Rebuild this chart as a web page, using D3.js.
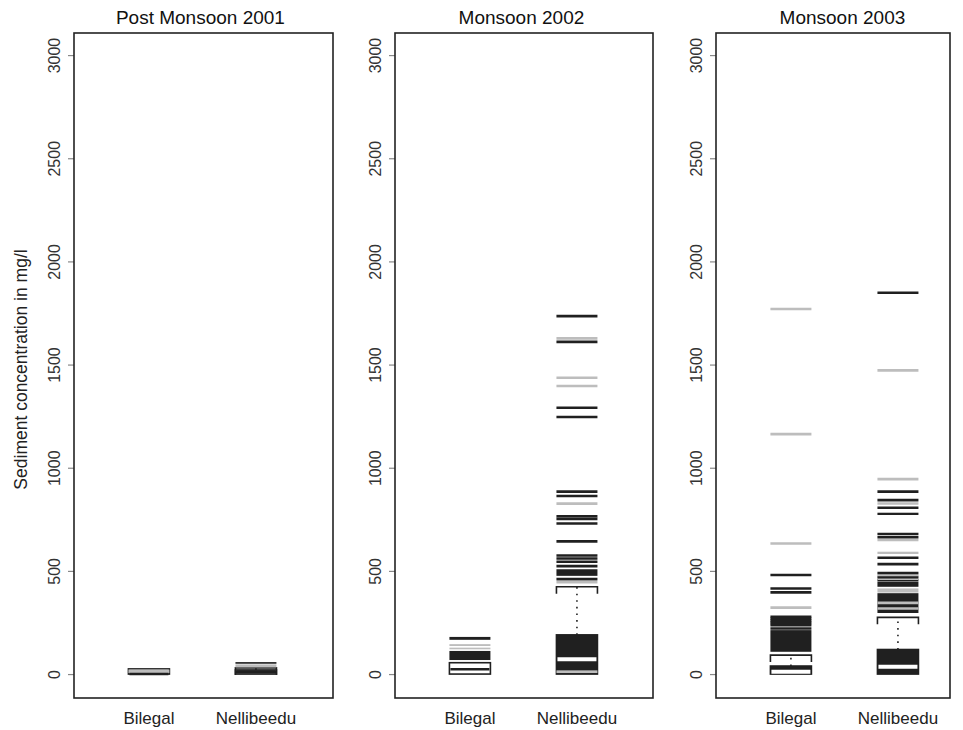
<!DOCTYPE html>
<html>
<head>
<meta charset="utf-8">
<script src="https://cdn.jsdelivr.net/npm/d3@7"></script>
<style>
  html, body { margin: 0; padding: 0; background: #fff; }
  svg { display: block; font-family: "Liberation Sans", Arial, sans-serif; }
</style>
</head>
<body>
<svg id="chart" width="963" height="730"></svg>
<script>
// ---------------- DATA ----------------
const panelTitles = ["Post Monsoon 2001", "Monsoon 2002", "Monsoon 2003"];
const sites = ["Bilegal", "Nellibeedu"];
const yTickValues = [0, 500, 1000, 1500, 2000, 2500, 3000];
const yAxisLabel = "Sediment concentration in mg/l";

// Box statistics per panel, per site: [q1, median, q3, upper whisker (null = none)]
const box2001 = [[0, 0, 25, null], [0, 12, 20, 30]];
const box2002 = [[0, 23, 55, null], [0, 72, 190, 423]];
const box2003 = [[0, 11, 39, 92], [0, 36, 119, 275]];
// Box shading: "L" = light box (dark median), "D" = dark box (light median)
const boxShade2001 = ["L", "L"];
const boxShade2002 = ["L", "D"];
const boxShade2003 = ["D", "D"];

// Individual sample lines: [low, high, series]; single samples have low == high.
// Series "D" = dark samples, "L" = light samples
const lines2001Bilegal = [[5, 22, "L"]];
const lines2001Nellibeedu = [[32, 47, "L"], [50, 58, "D"], [2, 17, "D"]];

const lines2002Bilegal = [[68, 112, "D"], [120, 128, "L"], [136, 145, "L"], [166, 180, "D"]];
const lines2002Nellibeedu = [
  [5, 18, "L"], [445, 445, "L"], [460, 460, "D"], [476, 508, "D"], [523, 523, "D"],
  [544, 544, "D"], [560, 560, "D"], [575, 575, "D"], [643, 643, "D"], [730, 730, "D"],
  [752, 752, "D"], [765, 765, "D"], [826, 826, "L"], [863, 863, "D"], [884, 884, "D"],
  [1246, 1246, "D"], [1291, 1291, "D"], [1396, 1396, "L"], [1436, 1436, "L"],
  [1610, 1610, "D"], [1627, 1627, "L"], [1735, 1735, "D"]
];

const lines2003Bilegal = [
  [108, 213, "D"], [221, 221, "D"], [237, 237, "D"], [248, 248, "D"],
  [258, 258, "D"], [268, 268, "D"], [278, 278, "D"], [322, 322, "L"], [396, 396, "D"], [415, 415, "D"],
  [480, 480, "D"], [633, 633, "L"], [1163, 1163, "L"], [1769, 1769, "L"]
];
const lines2003Nellibeedu = [
  [296, 392, "D"], [318, 318, "L"], [345, 345, "L"], [395, 415, "L"],
  [423, 447, "D"], [455, 455, "D"], [462, 462, "L"], [470, 470, "D"], [480, 480, "L"], [490, 490, "D"], [533, 533, "D"],
  [564, 564, "D"], [582, 593, "L"], [650, 650, "L"], [663, 663, "D"], [679, 679, "D"],
  [771, 782, "D"], [806, 806, "D"], [827, 827, "L"], [843, 843, "D"], [884, 884, "D"],
  [945, 945, "L"], [1472, 1472, "L"], [1848, 1848, "D"]
];

const panels = [
  { title: panelTitles[0], boxes: box2001, shades: boxShade2001, lines: [lines2001Bilegal, lines2001Nellibeedu] },
  { title: panelTitles[1], boxes: box2002, shades: boxShade2002, lines: [lines2002Bilegal, lines2002Nellibeedu] },
  { title: panelTitles[2], boxes: box2003, shades: boxShade2003, lines: [lines2003Bilegal, lines2003Nellibeedu] }
];

// ---------------- LAYOUT ----------------
const svg = d3.select("#chart");
const plotTop = 33, plotBottom = 698;
const panelLefts = [74, 395, 716];
const panelWidth = 259;
const frameRights = [333, 653, 950];
const boxHalf = 20.5;
const dark = "#202020", light = "#bdbdbd";
const seriesColor = s => (s === "D" ? dark : light);

const y = d3.scaleLinear().domain([-116, 3107]).range([plotBottom, plotTop]);

// y-axis title
svg.append("text")
  .attr("transform", `translate(27,${(plotTop + plotBottom) / 2 + 4}) rotate(-90)`)
  .attr("text-anchor", "middle")
  .attr("font-size", 17.5)
  .attr("fill", "#222")
  .text(yAxisLabel);

panels.forEach((p, pi) => {
  const left = panelLefts[pi];
  const x = d3.scaleLinear().domain([0.3, 2.72]).range([left, left + panelWidth]);
  const g = svg.append("g");

  // y axis
  const yAxis = d3.axisLeft(y).tickValues(yTickValues).tickSize(6).tickPadding(4).tickFormat(d3.format("d"));
  const ax = g.append("g").attr("transform", `translate(${left},0)`).call(yAxis);
  ax.select(".domain").remove();
  ax.selectAll(".tick line").attr("stroke", "#888").attr("stroke-width", 1.2);
  ax.selectAll(".tick text")
    .attr("font-size", 16)
    .attr("fill", "#333")
    .attr("font-family", "Liberation Sans, Arial, sans-serif")
    .attr("text-anchor", "middle")
    .attr("dy", null)
    .attr("x", null)
    .attr("transform", "translate(-14,0) rotate(-90)")
    .attr("y", 0);

  // x labels
  sites.forEach((s, si) => {
    g.append("text")
      .attr("x", x(si + 1))
      .attr("y", 724)
      .attr("text-anchor", "middle")
      .attr("font-size", 17)
      .attr("fill", "#222")
      .text(s);
  });

  // title
  g.append("text")
    .attr("x", (x(1) + x(2)) / 2 - 2)
    .attr("y", 24)
    .attr("text-anchor", "middle")
    .attr("font-size", 19)
    .attr("fill", "#111")
    .text(p.title);

  // boxes and lines
  sites.forEach((s, si) => {
    const cx = x(si + 1);
    const [q1, med, q3, hi] = p.boxes[si];
    const shade = p.shades[si];
    const bg = g.append("g");

    // whisker
    if (hi !== null) {
      bg.append("line")
        .attr("x1", cx).attr("x2", cx)
        .attr("y1", y(q3)).attr("y2", y(hi))
        .attr("stroke", dark).attr("stroke-width", 1.6)
        .attr("stroke-dasharray", "1.6,5");
      // cap with small end ticks
      bg.append("path")
        .attr("d", `M${cx - boxHalf},${y(hi) + 7}V${y(hi)}H${cx + boxHalf}V${y(hi) + 7}`)
        .attr("fill", "none").attr("stroke", dark).attr("stroke-width", 1.6);
    }

    // box
    bg.append("rect")
      .attr("x", cx - boxHalf).attr("width", boxHalf * 2)
      .attr("y", y(q3)).attr("height", Math.max(0, y(q1) - y(q3)))
      .attr("fill", shade === "D" ? dark : "#fff")
      .attr("stroke", dark).attr("stroke-width", 1.6);

    // sample lines
    bg.selectAll("rect.sample")
      .data(p.lines[si].filter(d => d[0] !== d[1]))
      .join("rect")
      .attr("class", "sample")
      .attr("x", cx - boxHalf).attr("width", boxHalf * 2)
      .attr("y", d => y(d[1]))
      .attr("height", d => y(d[0]) - y(d[1]))
      .attr("fill", d => seriesColor(d[2]));
    bg.selectAll("line.sample")
      .data(p.lines[si].filter(d => d[0] === d[1]))
      .join("line")
      .attr("class", "sample")
      .attr("x1", cx - boxHalf).attr("x2", cx + boxHalf)
      .attr("y1", d => y(d[0])).attr("y2", d => y(d[0]))
      .attr("stroke", d => seriesColor(d[2]))
      .attr("stroke-width", 2.6);

    // median
    bg.append("line")
      .attr("x1", cx - boxHalf + 1).attr("x2", cx + boxHalf - 1)
      .attr("y1", y(med)).attr("y2", y(med))
      .attr("stroke", shade === "D" ? "#fff" : dark)
      .attr("stroke-width", shade === "D" ? 4 : 2.5);
  });

  // frame
  g.append("rect")
    .attr("x", left).attr("y", plotTop)
    .attr("width", frameRights[pi] - left).attr("height", plotBottom - plotTop)
    .attr("fill", "none").attr("stroke", "#222").attr("stroke-width", 1.6);
});
</script>
</body>
</html>
